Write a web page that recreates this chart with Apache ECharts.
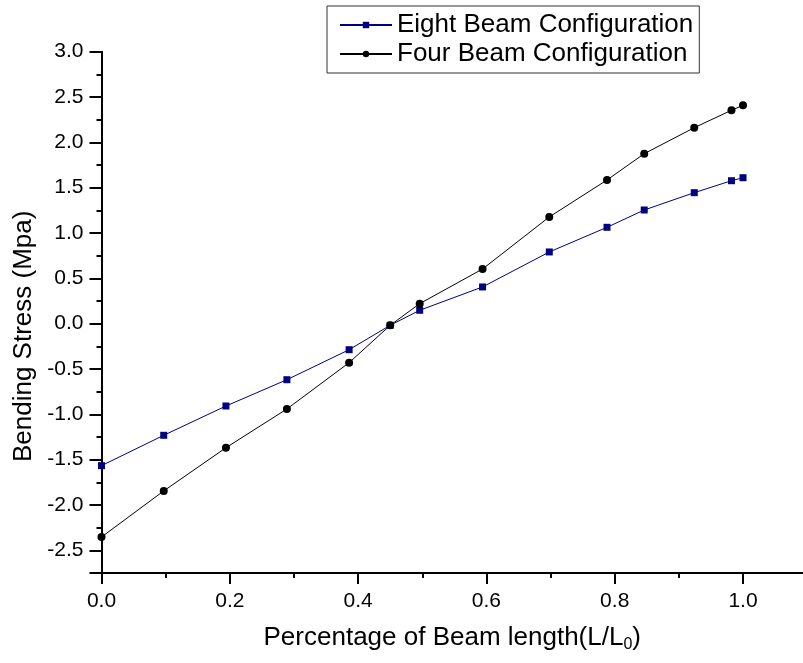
<!DOCTYPE html>
<html>
<head>
<meta charset="utf-8">
<script src="https://cdn.jsdelivr.net/npm/echarts@6/dist/echarts.min.js"></script>
<style>
  html, body { margin: 0; padding: 0; background: #fff; }
  #chart { width: 803px; height: 663px; }
</style>
</head>
<body>
<div id="chart"></div>
<script>
// fraction of beam length (L/L0)
const beamPos = [0, 0.097, 0.194, 0.289, 0.386, 0.45, 0.496, 0.594, 0.698, 0.788, 0.846, 0.924, 0.982, 1.0]
// bending stress (Mpa)
const eightBeam = [-1.566, -1.231, -0.908, -0.618, -0.287, -0.018, 0.148, 0.405, 0.791, 1.063, 1.254, 1.445, 1.577, 1.61]
const fourBeam = [-2.353, -1.845, -1.368, -0.941, -0.43, -0.018, 0.221, 0.603, 1.177, 1.585, 1.875, 2.162, 2.354, 2.409]
// x tick labels
const xTicks = [0, 0.2, 0.4, 0.6, 0.8, 1.0]

const FONT = 'Liberation Sans, Arial, sans-serif'

function pairs(xs, ys) {
  return xs.map((x, i) => [x, ys[i]])
}

const chart = echarts.init(document.getElementById('chart'))

const option = {
  animation: false,
  backgroundColor: '#fff',
  textStyle: { fontFamily: FONT },
  // x axis is cut at the right edge, like the original
  grid: {
    left: 101.5,
    top: 51.7,
    right: 0,
    height: 521.3,
  },
  legend: {
    orient: 'vertical',
    left: 327,
    top: 6,
    padding: [6, 6, 6, 12],
    itemGap: 3,
    itemWidth: 52,
    itemHeight: 8,
    borderColor: '#333',
    borderWidth: 1,
    textStyle: { fontSize: 26, color: '#000', fontFamily: FONT },
    data: ['Eight Beam Configuration', 'Four Beam Configuration'],
  },
  xAxis: {
    type: 'value',
    min: 0,
    max: 1.0935,
    interval: 0.2,
    name: '{a|Percentage of Beam length(L/L}{s|0}{a|)}',
    nameLocation: 'middle',
    nameGap: 50,
    nameTextStyle: {
      rich: {
        a: { fontSize: 26, color: '#000', fontFamily: FONT },
        s: { fontSize: 16, color: '#000', fontFamily: FONT, padding: [14, 0, 0, 0] },
      },
    },
    axisLine: { show: true, onZero: false, lineStyle: { color: '#000', width: 2 } },
    axisTick: { show: true, inside: false, length: 11, customValues: xTicks, lineStyle: { color: '#000', width: 2 } },
    minorTick: { show: true, splitNumber: 2, length: 5, lineStyle: { color: '#000', width: 2 } },
    axisLabel: {
      fontSize: 21,
      color: '#000',
      margin: 18,
      customValues: xTicks,
      formatter: v => v.toFixed(1),
    },
    splitLine: { show: false },
  },
  yAxis: {
    type: 'value',
    min: -2.75,
    max: 3.0,
    splitNumber: 11,
    minInterval: 0.5,
    maxInterval: 0.5,
    name: 'Bending Stress (Mpa)',
    nameLocation: 'middle',
    nameGap: 62,
    nameTextStyle: { fontSize: 26, color: '#000', fontFamily: FONT, padding: [0, 48, 0, 0] },
    axisLine: { show: true, onZero: false, lineStyle: { color: '#000', width: 2 } },
    axisTick: { show: true, inside: false, length: 12, lineStyle: { color: '#000', width: 2 } },
    minorTick: { show: true, splitNumber: 2, length: 5, lineStyle: { color: '#000', width: 2 } },
    axisLabel: {
      fontSize: 21,
      color: '#000',
      margin: 18,
      showMinLabel: false,
      formatter: v => v.toFixed(1),
    },
    splitLine: { show: false },
  },
  series: [
    {
      name: 'Eight Beam Configuration',
      type: 'line',
      symbol: 'rect',
      symbolSize: 7,
      color: '#000080',
      lineStyle: { width: 1, color: '#000080' },
      itemStyle: { color: '#000080' },
      data: pairs(beamPos, eightBeam),
    },
    {
      name: 'Four Beam Configuration',
      type: 'line',
      symbol: 'circle',
      symbolSize: 8,
      color: '#000',
      lineStyle: { width: 1, color: '#000' },
      itemStyle: { color: '#000' },
      data: pairs(beamPos, fourBeam),
    },
  ],
}

chart.setOption(option)
</script>
</body>
</html>
